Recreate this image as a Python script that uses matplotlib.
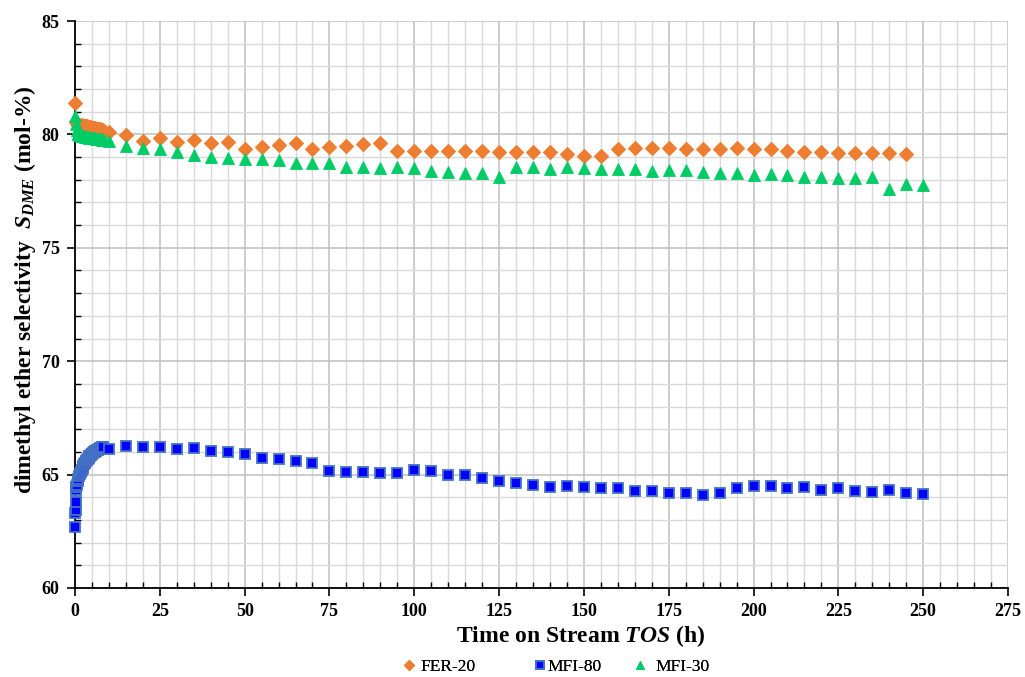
import matplotlib
matplotlib.use("Agg")
import matplotlib.pyplot as plt
from matplotlib.ticker import MultipleLocator

# ---- data: time on stream (h) and DME selectivity (mol-%) ----
fer20_time = [0.0, 0.25, 0.5, 0.75, 1.0, 1.25, 1.5, 1.75, 2.0, 2.25, 2.5, 2.75, 3.0, 3.25,
              3.5, 3.75, 4.0, 4.25, 4.5, 4.75, 5.0, 5.25, 5.5, 5.75, 6.0, 6.25, 6.5, 6.75,
              7.0, 7.25, 7.5, 7.75, 8.0, 8.25, 8.5,
              10, 15, 20, 25, 30, 35, 40, 45, 50, 55, 60, 65, 70, 75, 80, 85, 90, 95,
              100, 105, 110, 115, 120, 125, 130, 135, 140, 145, 150, 155, 160, 165, 170,
              175, 180, 185, 190, 195, 200, 205, 210, 215, 220, 225, 230, 235, 240, 245]
fer20_sel = [81.4, 80.55, 80.45, 80.42, 80.4, 80.42, 80.4, 80.38, 80.4, 80.38, 80.37, 80.38,
             80.36, 80.35, 80.36, 80.34, 80.33, 80.32, 80.33, 80.31, 80.3, 80.3, 80.29, 80.28,
             80.28, 80.26, 80.25, 80.25, 80.24, 80.22, 80.22, 80.21, 80.2, 80.18, 80.17,
             80.1, 79.97, 79.71, 79.86, 79.68, 79.75, 79.6, 79.65, 79.36, 79.46, 79.53, 79.64,
             79.37, 79.44, 79.5, 79.56, 79.6, 79.27, 79.27, 79.28, 79.27, 79.28, 79.28, 79.21,
             79.24, 79.24, 79.22, 79.14, 79.06, 79.06, 79.37, 79.41, 79.39, 79.41, 79.36, 79.36,
             79.34, 79.39, 79.37, 79.34, 79.25, 79.22, 79.22, 79.19, 79.19, 79.17, 79.18, 79.15]

mfi80_time = [0.05, 0.1, 0.15, 0.2, 0.3, 0.4, 0.5, 0.75, 1.0, 1.25, 1.5, 1.75, 2.0, 2.25,
              2.5, 2.75, 3.0, 3.25, 3.5, 3.75, 4.0, 4.25, 4.5, 4.75, 5.0, 5.25, 5.5, 5.75,
              6.0, 6.25, 6.5, 6.75, 7.0, 7.25, 7.5, 7.75, 8.0, 8.25,
              10, 15, 20, 25, 30, 35, 40, 45, 50, 55, 60, 65, 70, 75, 80, 85, 90, 95,
              100, 105, 110, 115, 120, 125, 130, 135, 140, 145, 150, 155, 160, 165, 170,
              175, 180, 185, 190, 195, 200, 205, 210, 215, 220, 225, 230, 235, 240, 245, 250]
mfi80_sel = [62.7, 63.3, 63.45, 63.8, 64.3, 64.45, 64.55, 64.7, 64.8, 64.92, 65.02, 65.12,
             65.22, 65.3, 65.38, 65.45, 65.52, 65.58, 65.64, 65.7, 65.75, 65.8, 65.84, 65.88,
             65.92, 65.95, 65.98, 66.01, 66.04, 66.06, 66.08, 66.1, 66.12, 66.14, 66.16, 66.18,
             66.2, 66.21,
             66.13, 66.27, 66.23, 66.2, 66.13, 66.16, 66.05, 65.98, 65.89, 65.72, 65.67, 65.6,
             65.5, 65.17, 65.13, 65.1, 65.09, 65.09, 65.19, 65.16, 64.98, 64.98, 64.86, 64.73,
             64.64, 64.54, 64.47, 64.5, 64.47, 64.4, 64.4, 64.29, 64.29, 64.2, 64.2, 64.09,
             64.2, 64.42, 64.51, 64.5, 64.42, 64.47, 64.32, 64.4, 64.28, 64.25, 64.32, 64.2,
             64.14]

mfi30_time = [0.0, 0.25, 0.5, 0.75, 1.0, 1.25, 1.5, 1.75, 2.0, 2.25, 2.5, 2.75, 3.0, 3.25,
              3.5, 3.75, 4.0, 4.25, 4.5, 4.75, 5.0, 5.25, 5.5, 5.75, 6.0, 6.25, 6.5, 6.75,
              7.0, 7.25, 7.5, 7.75, 8.0, 8.25, 8.5,
              10, 15, 20, 25, 30, 35, 40, 45, 50, 55, 60, 65, 70, 75, 80, 85, 90, 95,
              100, 105, 110, 115, 120, 125, 130, 135, 140, 145, 150, 155, 160, 165, 170,
              175, 180, 185, 190, 195, 200, 205, 210, 215, 220, 225, 230, 235, 240, 245, 250]
mfi30_sel = [80.8, 80.45, 80.2, 80.08, 80.02, 79.98, 79.96, 79.95, 79.94, 79.93, 79.92, 79.91,
             79.9, 79.9, 79.89, 79.88, 79.87, 79.86, 79.86, 79.85, 79.84, 79.84, 79.83, 79.82,
             79.82, 79.81, 79.8, 79.8, 79.79, 79.79, 79.78, 79.78, 79.77, 79.77, 79.76,
             79.72, 79.5, 79.41, 79.34, 79.21, 79.09, 79.02, 78.95, 78.92, 78.92, 78.87, 78.72,
             78.72, 78.72, 78.56, 78.56, 78.5, 78.58, 78.5, 78.39, 78.36, 78.31, 78.28, 78.13,
             78.56, 78.58, 78.48, 78.56, 78.5, 78.47, 78.47, 78.47, 78.39, 78.43, 78.42, 78.33,
             78.28, 78.28, 78.21, 78.25, 78.21, 78.11, 78.13, 78.09, 78.09, 78.11, 77.58, 77.81,
             77.77]

series_labels = ["FER-20", "MFI-80", "MFI-30"]

# ---- style ----
plt.rcParams["font.family"] = ["Liberation Serif", "DejaVu Serif"]
plt.rcParams["mathtext.fontset"] = "custom"
plt.rcParams["mathtext.rm"] = "Liberation Serif:bold"
plt.rcParams["mathtext.it"] = "Liberation Serif:italic:bold"
plt.rcParams["mathtext.bf"] = "Liberation Serif:bold"

W, H = 1025, 677
fig = plt.figure(figsize=(W / 100, H / 100), dpi=100)
ax = fig.add_axes([75 / W, 1 - 588 / H, (1008 - 75) / W, (588 - 21) / H])

ax.set_xlim(0, 275)
ax.set_ylim(60, 85)

ax.xaxis.set_major_locator(MultipleLocator(25))
ax.xaxis.set_minor_locator(MultipleLocator(5))
ax.yaxis.set_major_locator(MultipleLocator(5))
ax.yaxis.set_minor_locator(MultipleLocator(1))

ax.grid(which="minor", color="#D9D9D9", linewidth=1.0, zorder=0)
ax.grid(which="major", color="#BFBFBF", linewidth=1.1, zorder=0)
ax.set_axisbelow(True)

ax.tick_params(which="major", direction="out", length=6, width=1.2, labelsize=13, pad=5)
ax.tick_params(which="minor", direction="in", length=4, width=1.0)
for lab in ax.get_xticklabels() + ax.get_yticklabels():
    lab.set_fontweight("bold")

ax.spines["top"].set_visible(False)
ax.spines["right"].set_visible(False)
for side in ("left", "bottom"):
    ax.spines[side].set_linewidth(1.3)
    ax.spines[side].set_color("black")

h_fer, = ax.plot(fer20_time, fer20_sel, linestyle="none", marker="D", markersize=7.6,
                 markerfacecolor="#ED7D31", markeredgecolor="#ED7D31", markeredgewidth=0.8,
                 label=series_labels[0], zorder=3, clip_on=False)
h_m80, = ax.plot(mfi80_time, mfi80_sel, linestyle="none", marker="s", markersize=7.8,
                 markerfacecolor="#0000FF", markeredgecolor="#4472C4", markeredgewidth=1.3,
                 label=series_labels[1], zorder=4, clip_on=False)
h_m30, = ax.plot(mfi30_time, mfi30_sel, linestyle="none", marker="^", markersize=9.0,
                 markerfacecolor="#00CC66", markeredgecolor="#00CC66", markeredgewidth=0.6,
                 label=series_labels[2], zorder=5, clip_on=False)

ax.set_xlabel("Time on Stream $\\mathit{TOS}$ (h)", fontsize=17, fontweight="bold")
ax.xaxis.set_label_coords((581 - 75) / 933, (588 - 623) / 567)
ax.set_ylabel("dimethyl ether selectivity  $\\mathit{S}_{\\mathit{DME}}$ (mol-%)",
              fontsize=17, fontweight="bold")
ax.yaxis.set_label_coords((38 - 75) / 933, (588 - 290) / 567)

# legend entries placed individually along the bottom edge
legend_slots = [(h_fer, 404, 0.35), (h_m80, 535, 0.12), (h_m30, 635, 0.55)]
for handle, x_left, pad in legend_slots:
    lg = fig.legend([handle], [handle.get_label()], loc="center left",
                    bbox_to_anchor=(x_left / W, 1 - 667 / H), frameon=False,
                    fontsize=12.5, markerscale=0.65, handletextpad=pad,
                    handlelength=0.6, borderpad=0.0, borderaxespad=0.0)
    fig.add_artist(lg)

fig.savefig("out.png", dpi=100)
